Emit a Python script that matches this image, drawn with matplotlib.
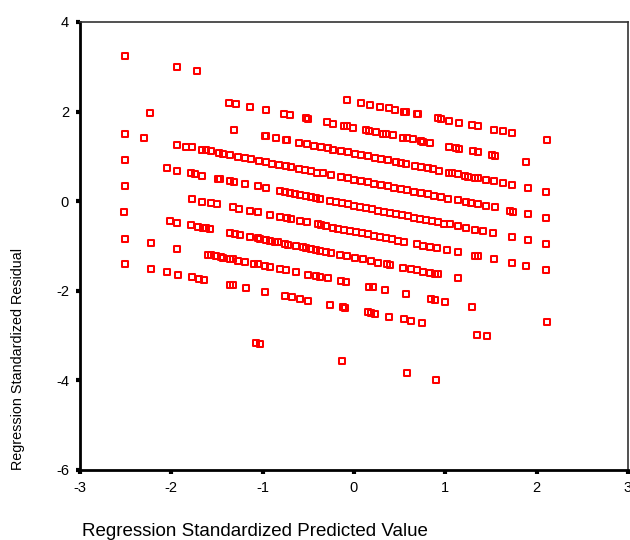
import matplotlib
matplotlib.use("Agg")
from matplotlib import pyplot as plt
from matplotlib.path import Path

# predicted (x) and residual (y) values
band0_x = [-2.508, -1.935, -1.716, -0.073, 0.080, 0.171, 0.288, 0.379, 0.452, 0.548, 0.573, 0.693,
           0.701, 0.920, 0.956, 1.036, 1.150, 1.292, 1.358, 1.529, 1.632, 1.731, 2.109]
band0_y = [3.24, 3.00, 2.91, 2.25, 2.19, 2.15, 2.10, 2.07, 2.04, 2.00, 1.99, 1.94,
           1.94, 1.85, 1.83, 1.80, 1.75, 1.70, 1.67, 1.60, 1.56, 1.52, 1.37]

band1_x = [-1.366, -1.297, -1.143, -0.961, -0.767, -0.698, -0.522, -0.504, -0.292, -0.230, -0.110,
           -0.073, -0.011, 0.127, 0.164, 0.244, 0.318, 0.354, 0.427, 0.537, 0.584, 0.646, 0.729,
           0.759, 0.828, 1.041, 1.120, 1.150, 1.303, 1.358, 1.515, 1.540, 1.887]
band1_y = [2.19, 2.17, 2.10, 2.03, 1.95, 1.92, 1.85, 1.84, 1.76, 1.73, 1.68,
           1.67, 1.64, 1.59, 1.57, 1.54, 1.51, 1.50, 1.47, 1.42, 1.40, 1.38, 1.34,
           1.33, 1.30, 1.22, 1.19, 1.17, 1.11, 1.09, 1.03, 1.02, 0.88]

band2_x = [-2.231, -1.319, -0.979, -0.961, -0.859, -0.749, -0.731, -0.599, -0.512, -0.435, -0.364,
           -0.285, -0.232, -0.139, -0.066, 0.007, 0.080, 0.153, 0.226, 0.299, 0.372, 0.463, 0.518,
           0.573, 0.664, 0.737, 0.811, 0.865, 0.931, 1.041, 1.077, 1.139, 1.211, 1.249, 1.321,
           1.358, 1.449, 1.533, 1.632, 1.734, 1.906, 2.106]
band2_y = [1.96, 1.59, 1.46, 1.45, 1.41, 1.36, 1.36, 1.30, 1.27, 1.24, 1.21,
           1.18, 1.15, 1.12, 1.09, 1.06, 1.03, 1.00, 0.97, 0.94, 0.91, 0.87, 0.85,
           0.83, 0.79, 0.76, 0.73, 0.71, 0.68, 0.64, 0.62, 0.60, 0.57, 0.55, 0.52,
           0.51, 0.47, 0.44, 0.40, 0.36, 0.29, 0.21]

band3_x = [-2.508, -2.294, -1.935, -1.837, -1.774, -1.662, -1.618, -1.563, -1.475, -1.432, -1.355,
           -1.267, -1.191, -1.125, -1.041, -0.961, -0.895, -0.818, -0.742, -0.687, -0.599, -0.533,
           -0.468, -0.402, -0.336, -0.249, -0.139, -0.066, 0.003, 0.080, 0.157, 0.222, 0.299,
           0.376, 0.441, 0.518, 0.584, 0.660, 0.737, 0.814, 0.880, 0.956, 1.033, 1.139, 1.230,
           1.285, 1.358, 1.449, 1.540, 1.704, 1.742, 1.906, 2.106]
band3_y = [1.50, 1.41, 1.26, 1.22, 1.20, 1.15, 1.14, 1.11, 1.08, 1.06, 1.03,
           0.99, 0.96, 0.94, 0.90, 0.87, 0.84, 0.81, 0.78, 0.76, 0.72, 0.70,
           0.67, 0.64, 0.62, 0.58, 0.54, 0.51, 0.48, 0.45, 0.42, 0.39, 0.36,
           0.33, 0.30, 0.27, 0.24, 0.21, 0.18, 0.15, 0.12, 0.09, 0.06, 0.02, -0.02,
           -0.04, -0.07, -0.11, -0.14, -0.21, -0.23, -0.29, -0.37]

band4_x = [-2.508, -2.048, -1.935, -1.782, -1.746, -1.662, -1.490, -1.472, -1.363, -1.319, -1.198,
           -1.051, -0.961, -0.807, -0.760, -0.705, -0.651, -0.596, -0.522, -0.468, -0.413, -0.377,
           -0.267, -0.194, -0.128, -0.062, 0.003, 0.069, 0.135, 0.200, 0.266, 0.332, 0.398,
           0.463, 0.529, 0.595, 0.660, 0.726, 0.792, 0.858, 0.923, 0.989, 1.047, 1.139, 1.230,
           1.321, 1.413, 1.522, 1.734, 1.906, 2.106]
band4_y = [0.92, 0.73, 0.68, 0.62, 0.61, 0.57, 0.50, 0.50, 0.45, 0.43, 0.39,
           0.33, 0.29, 0.23, 0.21, 0.19, 0.16, 0.14, 0.11, 0.09, 0.07, 0.05,
           0.01, -0.02, -0.05, -0.07, -0.10, -0.13, -0.15, -0.18, -0.21, -0.23, -0.26,
           -0.29, -0.31, -0.34, -0.37, -0.39, -0.42, -0.45, -0.47, -0.50, -0.52, -0.56, -0.60,
           -0.64, -0.67, -0.72, -0.80, -0.87, -0.95]

band5_x = [-2.508, -1.774, -1.662, -1.571, -1.497, -1.322, -1.256, -1.144, -1.051, -0.924, -0.807,
           -0.731, -0.687, -0.596, -0.512, -0.394, -0.358, -0.303, -0.230, -0.172, -0.106, -0.041,
           0.025, 0.091, 0.157, 0.222, 0.288, 0.354, 0.419, 0.485, 0.551, 0.693, 0.756, 0.828,
           0.912, 1.022, 1.139, 1.321, 1.358, 1.533, 1.734, 1.887, 2.106]
band5_y = [0.34, 0.04, -0.01, -0.04, -0.07, -0.14, -0.17, -0.22, -0.25, -0.31, -0.35,
           -0.38, -0.40, -0.44, -0.47, -0.52, -0.53, -0.56, -0.59, -0.61, -0.64, -0.66,
           -0.69, -0.72, -0.74, -0.77, -0.80, -0.82, -0.85, -0.88, -0.90, -0.96, -0.99, -1.02,
           -1.05, -1.09, -1.14, -1.22, -1.23, -1.30, -1.38, -1.44, -1.53]

band6_x = [-2.513, -2.020, -1.935, -1.782, -1.709, -1.654, -1.618, -1.582, -1.363, -1.308, -1.253,
           -1.143, -1.051, -1.034, -0.961, -0.924, -0.870, -0.832, -0.760, -0.723, -0.632, -0.559,
           -0.522, -0.468, -0.413, -0.377, -0.303, -0.249, -0.158, -0.073, 0.007, 0.099, 0.189,
           0.263, 0.365, 0.390, 0.537, 0.620, 0.693, 0.756, 0.828, 0.890, 0.920, 1.139]
band6_y = [-0.25, -0.44, -0.48, -0.54, -0.57, -0.59, -0.60, -0.62, -0.71, -0.73, -0.75,
           -0.80, -0.83, -0.84, -0.87, -0.89, -0.91, -0.92, -0.95, -0.97, -1.00, -1.03,
           -1.05, -1.07, -1.09, -1.11, -1.14, -1.16, -1.20, -1.23, -1.26, -1.30, -1.34,
           -1.37, -1.41, -1.42, -1.48, -1.51, -1.54, -1.57, -1.60, -1.62, -1.63, -1.72]

band7_x = [-2.508, -2.228, -1.935, -1.599, -1.563, -1.508, -1.461, -1.435, -1.363, -1.325, -1.271,
           -1.198, -1.095, -1.051, -0.979, -0.924, -0.815, -0.742, -0.632, -0.504, -0.413, -0.377,
           -0.285, -0.139, -0.084, 0.168, 0.208, 0.335, 0.573, 0.847, 0.890, 0.992, 1.296, 2.109]
band7_y = [-0.84, -0.94, -1.06, -1.19, -1.21, -1.23, -1.25, -1.26, -1.29, -1.30, -1.33,
           -1.35, -1.40, -1.41, -1.44, -1.47, -1.51, -1.54, -1.58, -1.64, -1.67, -1.69,
           -1.72, -1.78, -1.81, -1.91, -1.92, -1.98, -2.07, -2.18, -2.20, -2.24, -2.36, -2.69]

band8_x = [-2.505, -2.228, -2.048, -1.928, -1.774, -1.702, -1.643, -1.363, -1.325, -1.180, -0.979,
           -0.760, -0.679, -0.596, -0.504, -0.267, -0.120, -0.103, 0.153, 0.189, 0.226, 0.383,
           0.543, 0.620, 0.745, 1.350, 1.457]
band8_y = [-1.41, -1.52, -1.59, -1.64, -1.70, -1.73, -1.75, -1.87, -1.88, -1.94, -2.02,
           -2.11, -2.14, -2.18, -2.22, -2.31, -2.37, -2.38, -2.48, -2.50, -2.51, -2.58,
           -2.64, -2.67, -2.72, -2.99, -3.02]

outlier_x = [-1.07, -1.03, -0.128, 0.584, 0.901]
outlier_y = [-3.16, -3.19, -3.56, -3.84, -3.99]

pred = band0_x + band1_x + band2_x + band3_x + band4_x + band5_x + band6_x + band7_x + band8_x + outlier_x
resid = band0_y + band1_y + band2_y + band3_y + band4_y + band5_y + band6_y + band7_y + band8_y + outlier_y

plt.rcParams['font.family'] = ['Liberation Sans', 'DejaVu Sans']
plt.rcParams['axes.unicode_minus'] = False

fig = plt.figure(figsize=(6.3, 5.4), dpi=100)
ax = fig.add_axes([80 / 630, 70 / 540, 548 / 630, 448 / 540])

# SPSS draws slightly wide open boxes
box = Path([(-1, -0.75), (1, -0.75), (1, 0.75), (-1, 0.75), (-1, -0.75)],
           [Path.MOVETO, Path.LINETO, Path.LINETO, Path.LINETO, Path.CLOSEPOLY])
ax.plot(pred, resid, linestyle="none", marker=box, markersize=5.0,
        markerfacecolor="none", markeredgecolor="#ff0000", markeredgewidth=1.45)

ax.set_xlim(-3, 3)
ax.set_ylim(-6, 4)
ax.set_xticks([-3, -2, -1, 0, 1, 2, 3])
ax.set_yticks([-6, -4, -2, 0, 2, 4])
ax.tick_params(direction="out", length=3, width=3, labelsize=10.5, pad=5, color="black")

for side in ["left", "bottom"]:
    ax.spines[side].set_linewidth(2)
    ax.spines[side].set_color("black")
for side in ["top", "right"]:
    ax.spines[side].set_linewidth(1.2)
    ax.spines[side].set_color("#333333")

fig.text(18 / 630, 70 / 540, "Regression Standardized Residual", rotation=90,
         ha="center", va="bottom", fontsize=10.4)
fig.text(82 / 630, 1 - 532 / 540, "Regression Standardized Predicted Value",
         ha="left", va="center", fontsize=13.5)

fig.savefig("out.png", dpi=100)
